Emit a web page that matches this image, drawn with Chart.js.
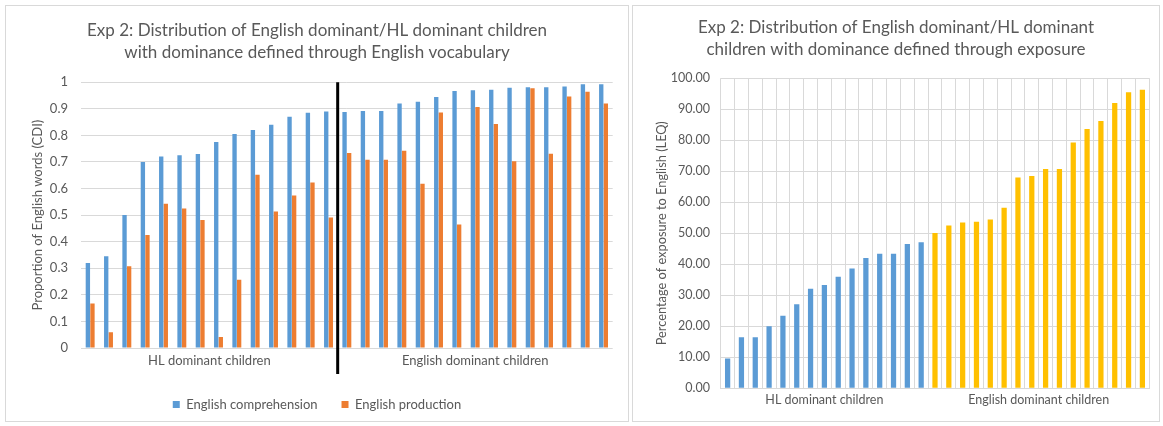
<!DOCTYPE html>
<html><head><meta charset="utf-8">
<script src="https://cdn.jsdelivr.net/npm/chart.js@4.4.0/dist/chart.umd.min.js"></script>
<style>
html,body{margin:0;padding:0;background:#fff;width:1163px;height:426px;overflow:hidden;}
.box{position:absolute;border:1px solid #d9d9d9;background:#fff;}
#b1{left:5px;top:5px;width:622px;height:415px;}
#b2{left:632px;top:5px;width:526px;height:415px;}
canvas{display:block;}
</style></head><body>
<div class="box" id="b1"><canvas id="c1" width="622" height="415"></canvas></div>
<div class="box" id="b2"><canvas id="c2" width="526" height="415"></canvas></div>
<script>
// ---- Data: left chart (proportion of English words, CDI) ----
const hlComp  = [0.32,0.345,0.50,0.70,0.72,0.725,0.73,0.775,0.805,0.82,0.84,0.87,0.885,0.89];
const hlProd  = [0.167,0.059,0.308,0.425,0.543,0.525,0.482,0.041,0.257,0.652,0.514,0.574,0.623,0.491];
const engComp = [0.888,0.892,0.892,0.920,0.926,0.944,0.967,0.970,0.972,0.979,0.981,0.981,0.984,0.992,0.992];
const engProd = [0.734,0.708,0.708,0.742,0.618,0.886,0.465,0.907,0.843,0.703,0.977,0.731,0.946,0.964,0.920];
// ---- Data: right chart (percentage of exposure to English, LEQ) ----
const hlExp  = [9.6,16.5,16.5,20.0,23.4,27.1,32.1,33.3,36.0,38.6,42.0,43.4,43.4,46.5,47.1];
const engExp = [50.1,52.5,53.5,53.7,54.4,58.2,68.0,68.5,70.7,70.7,79.3,83.6,86.2,92.0,95.5,96.3];
// ---- Text ----
const groupLabels = ['HL dominant children','English dominant children'];
const seriesNames = ['English comprehension','English production'];
const title1 = ['Exp 2: Distribution of English dominant/HL dominant children','with dominance defined through English vocabulary'];
const title2 = ['Exp 2: Distribution of English dominant/HL dominant','children with dominance defined through exposure'];
const yTitle1 = 'Proportion of English words (CDI)';
const yTitle2 = 'Percentage of exposure to English (LEQ)';

const FONT = 'Lato, "Open Sans", sans-serif';
const GRAY = '#595959', GRID = '#d9d9d9';
const BLUE = '#5B9BD5', ORANGE = '#ED7D31', YELLOW = '#FFC000';

function groupTicks(a, b){
  return [{value:(a.length-1)/2},{value:a.length+(b.length-1)/2}];
}
function spacer(w){
  return {type:'linear', position:'right', display:true, grid:{display:false, drawTicks:false},
          ticks:{display:false}, border:{display:false}, afterFit:s=>{s.width = w;}};
}

const comp = hlComp.concat(engComp);
const prod = hlProd.concat(engProd);
const labels1 = comp.map((_,i)=>String(i+1));

const divider = {
  id:'divider',
  afterDatasetsDraw(chart){
    const ctx = chart.ctx;
    const x = chart.scales.x.getPixelForValue(hlComp.length - 0.5);
    ctx.save();
    ctx.strokeStyle = '#000';
    ctx.lineWidth = 3;
    ctx.beginPath();
    ctx.moveTo(x, chart.chartArea.top);
    ctx.lineTo(x, chart.scales.x2.bottom);
    ctx.stroke();
    ctx.restore();
  }
};

new Chart(document.getElementById('c1'), {
  type:'bar',
  data:{labels:labels1, datasets:[
    {label:seriesNames[0], data:comp, backgroundColor:BLUE, barPercentage:0.95, categoryPercentage:0.5},
    {label:seriesNames[1], data:prod, backgroundColor:ORANGE, barPercentage:0.95, categoryPercentage:0.5}
  ]},
  options:{
    responsive:false, animation:false,
    layout:{padding:0},
    plugins:{
      title:{display:true, text:title1, color:GRAY, font:{family:FONT,size:17,weight:'normal',lineHeight:1.3}, padding:{top:13,bottom:19}},
      legend:{position:'bottom', labels:{boxWidth:7, boxHeight:7, color:GRAY, font:{family:FONT,size:13}, padding:24}},
      tooltip:{enabled:false}
    },
    scales:{
      x:{display:false, offset:true},
      x2:{type:'linear', position:'bottom', min:-0.5, max:comp.length-0.5, offset:false,
          grid:{display:false, drawTicks:false, offset:false}, border:{display:false},
          ticks:{color:GRAY, font:{family:FONT,size:13}, padding:5, autoSkip:false, maxRotation:0,
                 callback:(v,i)=>groupLabels[i]},
          afterBuildTicks:s=>{s.ticks = groupTicks(hlComp, engComp);},
          afterFit:s=>{s.height = 26;}},
      y:{min:0, max:1,
         ticks:{stepSize:0.1, color:GRAY, font:{family:FONT,size:13}, padding:13,
                callback:v=>String(Number(Number(v).toFixed(1)))},
         grid:{color:GRID, drawTicks:false}, border:{display:false},
         title:{display:true, text:yTitle1, color:GRAY, font:{family:FONT,size:13}, padding:{top:24,bottom:0}},
         afterFit:s=>{s.width = 75;}},
      yR:spacer(15.3)
    }
  },
  plugins:[divider]
});

const expAll = hlExp.concat(engExp);
const expColors = hlExp.map(()=>BLUE).concat(engExp.map(()=>YELLOW));
const labels2 = expAll.map((_,i)=>String(i+1));

new Chart(document.getElementById('c2'), {
  type:'bar',
  data:{labels:labels2, datasets:[
    {label:'Exposure', data:expAll, backgroundColor:expColors, barPercentage:0.38, categoryPercentage:1}
  ]},
  options:{
    responsive:false, animation:false,
    layout:{padding:0},
    plugins:{
      title:{display:true, text:title2, color:GRAY, font:{family:FONT,size:17,weight:'normal',lineHeight:1.3}, padding:{top:10,bottom:18}},
      legend:{display:false},
      tooltip:{enabled:false}
    },
    scales:{
      x:{offset:true, grid:{color:GRID, offset:true, drawTicks:false}, border:{display:true,color:GRID}, ticks:{display:false}},
      x2:{type:'linear', position:'bottom', min:-0.5, max:expAll.length-0.5, offset:false,
          grid:{display:false, drawTicks:false, offset:false}, border:{display:false},
          ticks:{color:GRAY, font:{family:FONT,size:12.5}, padding:4.5, autoSkip:false, maxRotation:0,
                 callback:(v,i)=>groupLabels[i]},
          afterBuildTicks:s=>{s.ticks = groupTicks(hlExp, engExp);},
          afterFit:s=>{s.height = 32.7;}},
      y:{min:0, max:100,
         ticks:{stepSize:10, color:GRAY, font:{family:FONT,size:12.5}, padding:10.7, callback:v=>Number(v).toFixed(2)},
         grid:{color:GRID, drawTicks:false}, border:{display:false},
         title:{display:true, text:yTitle2, color:GRAY, font:{family:FONT,size:12.8}, padding:{top:21,bottom:0}},
         afterFit:s=>{s.width = 87.7;}},
      yR:spacer(9.7)
    }
  }
});
</script>
</body></html>
